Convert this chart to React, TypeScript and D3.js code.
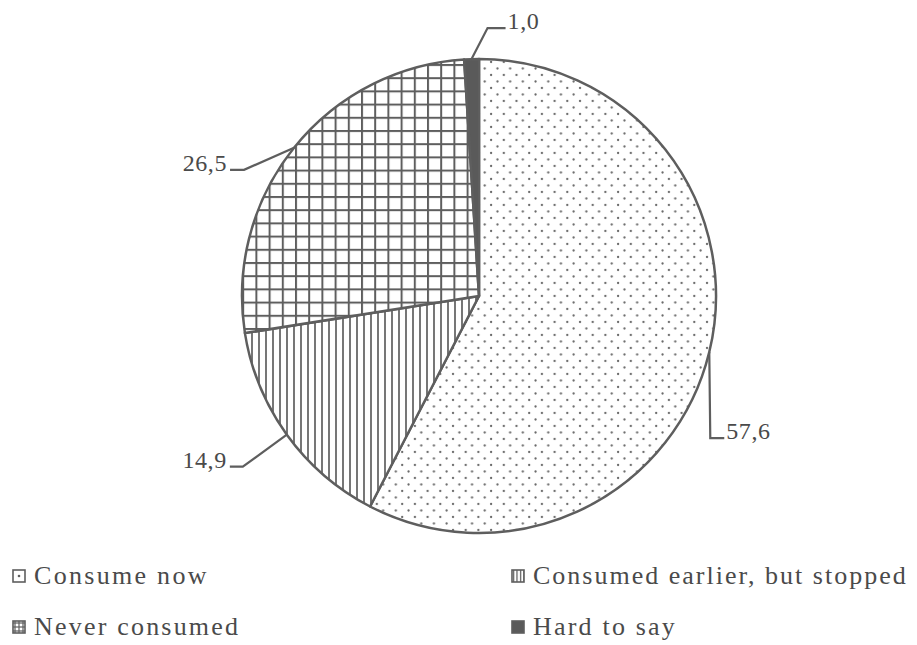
import React from "react";
import * as d3 from "d3";

const categories = ["Consume now", "Consumed earlier, but stopped", "Never consumed", "Hard to say"];
const values = [57.6, 14.9, 26.5, 1.0];
const valueLabels = ["57,6", "14,9", "26,5", "1,0"];
const fills = ["url(#dots)", "url(#vlines)", "url(#grid)", "#5a5a5a"];

// leader layout: elbow offsets relative to slice edge point, and horizontal run
const leaders = [
  { elbow: [1, 86], run: 14, anchor: "start" },
  { elbow: [-44, 32], run: -13, anchor: "end" },
  { elbow: [-50, 22], run: -14, anchor: "end" },
  { elbow: [16, -31], run: 18, anchor: "start" },
];

const W = 917;
const H = 645;
const cx = 479;
const cy = 296;
const R = 237;
const INK = "#5e5e5e";
const TXT = "#4a4a4a";
const FONT = "'Liberation Serif', 'Times New Roman', serif";

export default function App() {
  const pie = d3.pie<number>().sort(null).value((d) => d).startAngle(0).endAngle(2 * Math.PI);
  const arcs = pie(values);
  const arc = d3.arc<d3.PieArcDatum<number>>().innerRadius(0).outerRadius(R);

  const legendItems = [
    { i: 0, x: 13, y: 570, ls: 2.3 },
    { i: 1, x: 512, y: 570, ls: 2.0 },
    { i: 2, x: 13, y: 621, ls: 2.2 },
    { i: 3, x: 512, y: 621, ls: 2.2 },
  ];

  return (
    <svg width={W} height={H} viewBox={`0 0 ${W} ${H}`} style={{ position: "absolute", left: 0, top: 0, background: "#fff" }}>
      <defs>
        <pattern id="dots" patternUnits="userSpaceOnUse" width={12.7} height={13} x={cx} y={cy}>
          <rect width={12.7} height={13} fill="#fff" />
          <circle cx={3} cy={3} r={1.15} fill="#6a6a6a" />
          <circle cx={9.35} cy={9.5} r={1.15} fill="#6a6a6a" />
        </pattern>
        <pattern id="grid" patternUnits="userSpaceOnUse" width={13.2} height={13.2} x={cx - 3} y={cy}>
          <rect width={13.2} height={13.2} fill="#fff" />
          <line x1={1} y1={0} x2={1} y2={13.2} stroke={INK} strokeWidth={2} />
          <line x1={0} y1={1} x2={13.2} y2={1} stroke={INK} strokeWidth={2} />
        </pattern>
        <pattern id="vlines" patternUnits="userSpaceOnUse" width={7} height={10} x={cx} y={0}>
          <rect width={7} height={10} fill="#fff" />
          <line x1={1} y1={0} x2={1} y2={10} stroke={INK} strokeWidth={1.7} />
        </pattern>
        <pattern id="ldots" patternUnits="userSpaceOnUse" width={12} height={12} x={13} y={570}>
          <rect width={12} height={12} fill="#fff" />
          <circle cx={6} cy={6} r={1.3} fill={INK} />
        </pattern>
        <pattern id="lgrid" patternUnits="userSpaceOnUse" width={4} height={4} x={13} y={621}>
          <rect width={4} height={4} fill="#fff" />
          <line x1={0} y1={2} x2={4} y2={2} stroke={INK} strokeWidth={1.2} />
          <line x1={2} y1={0} x2={2} y2={4} stroke={INK} strokeWidth={1.2} />
        </pattern>
        <pattern id="lvlines" patternUnits="userSpaceOnUse" width={3.5} height={4} x={512} y={570}>
          <rect width={3.5} height={4} fill="#fff" />
          <line x1={1.5} y1={0} x2={1.5} y2={4} stroke={INK} strokeWidth={1.3} />
        </pattern>
      </defs>

      <g transform={`translate(${cx},${cy})`}>
        {arcs.map((a, i) => (
          <path key={i} d={arc(a) || ""} fill={fills[i]} stroke={INK} strokeWidth={2.5} strokeLinejoin="round" />
        ))}
        {arcs.map((a, i) => {
          const mid = (a.startAngle + a.endAngle) / 2;
          const px = R * Math.sin(mid);
          const py = -R * Math.cos(mid);
          const L = leaders[i];
          const ex = px + L.elbow[0];
          const ey = py + L.elbow[1];
          const hx = ex + L.run;
          const tx = hx + (L.anchor === "start" ? 2 : -3);
          return (
            <g key={"l" + i}>
              <polyline points={`${px},${py} ${ex},${ey} ${hx},${ey}`} fill="none" stroke={INK} strokeWidth={2.2} />
              <text x={tx} y={ey + 1} textAnchor={L.anchor} fontFamily={FONT} fontSize={24} fill={TXT} letterSpacing={0.6}>
                {valueLabels[i]}
              </text>
            </g>
          );
        })}
      </g>

      {legendItems.map(({ i, x, y, ls }) => (
        <g key={"lg" + i}>
          <rect
            x={x}
            y={y}
            width={12}
            height={12}
            fill={i === 0 ? "url(#ldots)" : i === 1 ? "url(#lvlines)" : i === 2 ? "url(#lgrid)" : "#5a5a5a"}
            stroke={INK}
            strokeWidth={1.6}
          />
          <text x={x + 21} y={y + 14} fontFamily={FONT} fontSize={26} fill={TXT} letterSpacing={ls}>
            {categories[i]}
          </text>
        </g>
      ))}
    </svg>
  );
}
